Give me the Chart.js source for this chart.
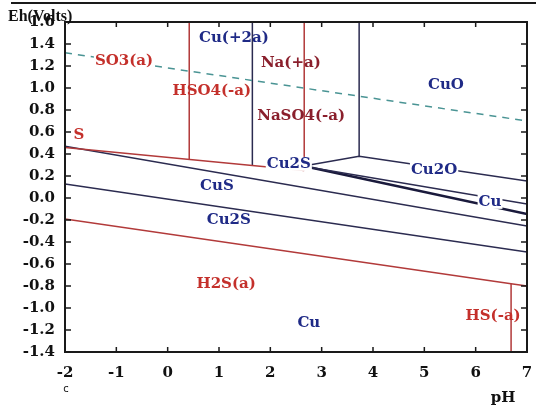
<!DOCTYPE html>
<html>
<head>
<meta charset="utf-8">
<script src="https://cdn.jsdelivr.net/npm/chart.js@4.4.0/dist/chart.umd.min.js"></script>
<style>
  html, body { margin: 0; padding: 0; background: #fff; }
  #wrap { position: relative; width: 536px; height: 405px; }
</style>
</head>
<body>
<div id="wrap"><canvas id="ehChart" width="536" height="405"></canvas></div>
<script>
// tick labels
const phTicks = [-2, -1, 0, 1, 2, 3, 4, 5, 6, 7];
const ehTicks = [-1.4, -1.2, -1.0, -0.8, -0.6, -0.4, -0.2, 0.0, 0.2, 0.4, 0.6, 0.8, 1.0, 1.2, 1.4, 1.6];

// boundary lines, [pH, Eh] pairs
const waterLine = [[-2, 1.32], [7, 0.70]];
const sulfurTop = [[-2, 0.46], [2.66, 0.25]];
const hso4Split = [[0.42, 1.6], [0.42, 0.355]];
const naSplit = [[2.66, 1.6], [2.66, 0.25]];
const sulfideLow = [[-2, -0.19], [6.69, -0.78], [7, -0.80]];
const hsSplit = [[6.69, -0.78], [6.69, -1.4]];
const cuIonSplit = [[1.65, 1.6], [1.65, 0.30]];
const cuoSplit = [[3.73, 1.6], [3.73, 0.38]];
const cuoLow = [[2.76, 0.30], [3.73, 0.38], [7, 0.155]];
const cu2oLow = [[2.76, 0.28], [7, -0.055]];
const cu2sCu = [[2.76, 0.28], [7, -0.145]];
const cusTop = [[-2, 0.47], [7, -0.255]];
const cusCu2s = [[-2, 0.128], [7, -0.49]];

// region labels
const labelText = ['Cu(+2a)', 'Na(+a)', 'SO3(a)', 'HSO4(-a)', 'NaSO4(-a)', 'CuO', 'S', 'Cu2S', 'Cu2O', 'Cu', 'CuS', 'Cu2S', 'H2S(a)', 'Cu', 'HS(-a)'];
const labelPH = [1.29, 2.40, -0.85, 0.86, 2.60, 5.42, -1.73, 2.36, 5.19, 6.28, 0.96, 1.19, 1.14, 2.75, 6.34];
const labelEh = [1.45, 1.23, 1.245, 0.97, 0.745, 1.03, 0.57, 0.31, 0.255, -0.035, 0.11, -0.20, -0.78, -1.14, -1.07];
const labelKind = ['cu', 'na', 's', 's', 'na', 'cu', 's', 'cu', 'cu', 'cu', 'cu', 'cu', 's', 'cu', 's'];
const labelBoxed = [false, false, true, false, false, false, false, true, true, true, false, false, false, false, false];

const kindColor = { cu: '#1f2a86', s: '#c4302b', na: '#8a1f2c' };
const redLine = '#b23a3a';
const darkLine = '#2b2b50';

function pts(arr) {
    return arr.map(p => ({ x: p[0], y: p[1] }));
}

function line(arr, color, width, dash) {
    return {
        data: pts(arr),
        showLine: true,
        borderColor: color,
        borderWidth: width,
        borderDash: dash || [],
        pointRadius: 0,
        fill: false,
        tension: 0
    };
}

const tickFont = { family: 'DejaVu Serif', size: 15, weight: 'bold' };

const decorations = {
    id: 'decorations',
    afterDatasetsDraw(chart) {
        const ctx = chart.ctx;
        const a = chart.chartArea;
        const xs = chart.scales.x;
        const ys = chart.scales.y;
        ctx.save();

        // labels
        ctx.font = 'bold 15px "DejaVu Serif"';
        ctx.textAlign = 'center';
        ctx.textBaseline = 'middle';
        labelText.forEach((t, i) => {
            const px = xs.getPixelForValue(labelPH[i]);
            const py = ys.getPixelForValue(labelEh[i]);
            if (labelBoxed[i]) {
                const w = ctx.measureText(t).width;
                ctx.fillStyle = '#fff';
                ctx.fillRect(px - w / 2 - 1, py - 7, w + 2, 14);
            }
            ctx.fillStyle = kindColor[labelKind[i]];
            ctx.fillText(t, px, py);
        });

        // frame
        ctx.strokeStyle = '#1a1a1a';
        ctx.lineWidth = 2;
        ctx.strokeRect(a.left, a.top, a.right - a.left, a.bottom - a.top);

        // inward ticks on all four sides
        ctx.lineWidth = 1.5;
        ctx.beginPath();
        phTicks.forEach(v => {
            const px = xs.getPixelForValue(v);
            ctx.moveTo(px, a.bottom); ctx.lineTo(px, a.bottom - 5);
            ctx.moveTo(px, a.top); ctx.lineTo(px, a.top + 5);
        });
        ehTicks.forEach(v => {
            const py = ys.getPixelForValue(v);
            ctx.moveTo(a.left, py); ctx.lineTo(a.left + 6, py);
            ctx.moveTo(a.right, py); ctx.lineTo(a.right - 6, py);
        });
        ctx.stroke();

        // axis titles
        ctx.fillStyle = '#111';
        ctx.textAlign = 'left';
        ctx.textBaseline = 'alphabetic';
        ctx.font = 'bold 16px "Liberation Serif"';
        ctx.fillText('Eh(Volts)', 8, 21);
        ctx.textAlign = 'center';
        ctx.font = 'bold 15px "DejaVu Serif"';
        ctx.fillText('pH', a.right - 24, 402);
        ctx.font = '10px "DejaVu Sans"';
        ctx.fillText('c', a.left + 1, 392);

        // rule across the top of the page
        ctx.lineWidth = 2;
        ctx.beginPath();
        ctx.moveTo(11, 3);
        ctx.lineTo(536, 3);
        ctx.stroke();
        ctx.restore();
    }
};

new Chart(document.getElementById('ehChart'), {
    type: 'scatter',
    data: {
        datasets: [
            line(waterLine, '#4a9494', 1.5, [7, 6]),
            line(sulfurTop, redLine, 1.5),
            line(hso4Split, redLine, 1.5),
            line(naSplit, redLine, 1.5),
            line(sulfideLow, redLine, 1.5),
            line(hsSplit, redLine, 1.5),
            line(cuIonSplit, darkLine, 1.5),
            line(cuoSplit, darkLine, 1.5),
            line(cuoLow, darkLine, 1.5),
            line(cu2oLow, darkLine, 1.5),
            line(cu2sCu, '#1a1a3c', 2.5),
            line(cusTop, darkLine, 1.5),
            line(cusCu2s, darkLine, 1.5)
        ]
    },
    options: {
        responsive: false,
        animation: false,
        layout: { padding: { top: 22, right: 9, left: 0, bottom: 0 } },
        plugins: {
            legend: { display: false },
            tooltip: { enabled: false }
        },
        scales: {
            x: {
                type: 'linear',
                min: -2,
                max: 7,
                afterBuildTicks: s => { s.ticks = phTicks.map(v => ({ value: v })); },
                afterFit: s => { s.height = 53; s.paddingLeft = 0; s.paddingRight = 0; },
                ticks: { font: tickFont, color: '#111', padding: 12, maxRotation: 0, callback: v => String(v) },
                grid: { display: false, drawTicks: false },
                border: { display: false }
            },
            y: {
                type: 'linear',
                min: -1.4,
                max: 1.6,
                afterBuildTicks: s => { s.ticks = ehTicks.map(v => ({ value: v })); },
                afterFit: s => { s.width = 65; s.paddingTop = 0; s.paddingBottom = 0; },
                ticks: { font: tickFont, color: '#111', padding: 10, callback: v => v.toFixed(1) },
                grid: { display: false, drawTicks: false },
                border: { display: false }
            }
        }
    },
    plugins: [decorations]
});
</script>
</body>
</html>
